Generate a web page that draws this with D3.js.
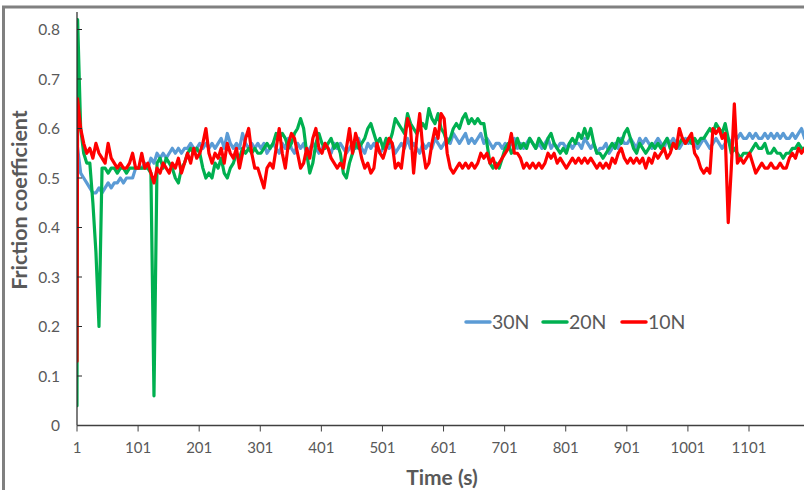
<!DOCTYPE html>
<html>
<head>
<meta charset="utf-8">
<script src="https://cdn.jsdelivr.net/npm/d3@7"></script>
<style>
  html, body { margin: 0; padding: 0; background: #fff; }
  svg { display: block; }
  text { font-family: Lato, "Open Sans", sans-serif; fill: #595959; }
</style>
</head>
<body>
<svg id="chart" width="804" height="490"></svg>
<script>
// Sample times (s): first reading, then every 5 s
const time = [1].concat(d3.range(2, 1200, 5));

// Friction coefficient, 30 N load
const mu30N = [0.57,
  0.56,0.51,0.50,0.49,0.48,0.47,0.47,0.48,0.47,0.48,0.49,0.48,0.49,0.49,0.50,0.49,0.50,0.50,0.50,0.52,
  0.52,0.52,0.53,0.52,0.54,0.53,0.55,0.54,0.55,0.54,0.55,0.56,0.55,0.56,0.55,0.56,0.56,0.57,0.56,0.56,
  0.57,0.56,0.57,0.56,0.57,0.56,0.57,0.58,0.56,0.59,0.57,0.56,0.57,0.56,0.59,0.57,0.56,0.57,0.56,0.57,
  0.56,0.57,0.55,0.56,0.57,0.56,0.55,0.57,0.56,0.58,0.56,0.55,0.57,0.56,0.57,0.55,0.56,0.57,0.56,0.55,
  0.56,0.57,0.56,0.55,0.57,0.56,0.57,0.56,0.55,0.56,0.57,0.56,0.58,0.56,0.55,0.57,0.56,0.57,0.56,0.55,
  0.56,0.57,0.56,0.57,0.55,0.56,0.57,0.56,0.58,0.56,0.57,0.56,0.55,0.57,0.56,0.57,0.56,0.58,0.57,0.56,
  0.57,0.58,0.57,0.59,0.58,0.57,0.58,0.59,0.57,0.58,0.57,0.58,0.59,0.57,0.58,0.57,0.56,0.57,0.57,0.56,
  0.57,0.56,0.57,0.58,0.56,0.57,0.56,0.57,0.58,0.57,0.56,0.57,0.56,0.57,0.58,0.56,0.57,0.56,0.57,0.57,
  0.56,0.57,0.56,0.57,0.57,0.56,0.58,0.57,0.56,0.57,0.55,0.56,0.56,0.57,0.55,0.56,0.57,0.56,0.58,0.57,
  0.57,0.58,0.57,0.56,0.58,0.57,0.58,0.57,0.56,0.57,0.58,0.57,0.56,0.58,0.57,0.58,0.57,0.56,0.57,0.58,
  0.57,0.58,0.57,0.56,0.57,0.58,0.57,0.56,0.57,0.58,0.57,0.56,0.57,0.58,0.57,0.59,0.58,0.59,0.58,0.58,
  0.59,0.58,0.59,0.58,0.58,0.59,0.58,0.59,0.58,0.59,0.58,0.59,0.58,0.58,0.59,0.58,0.59,0.60,0.58,0.59];

// Friction coefficient, 20 N load
const mu20N = [0.04,
  0.82,0.60,0.55,0.53,0.53,0.45,0.35,0.20,0.52,0.52,0.51,0.52,0.52,0.51,0.52,0.52,0.51,0.52,0.52,0.52,
  0.52,0.52,0.52,0.52,0.51,0.06,0.53,0.54,0.52,0.54,0.53,0.52,0.50,0.49,0.52,0.53,0.55,0.56,0.55,0.56,
  0.55,0.52,0.50,0.51,0.50,0.53,0.52,0.54,0.51,0.50,0.52,0.53,0.55,0.54,0.56,0.55,0.56,0.55,0.56,0.55,
  0.55,0.56,0.57,0.56,0.57,0.59,0.58,0.59,0.58,0.56,0.57,0.59,0.60,0.62,0.60,0.55,0.51,0.53,0.57,0.59,
  0.57,0.56,0.57,0.58,0.56,0.57,0.55,0.51,0.50,0.53,0.55,0.57,0.56,0.57,0.58,0.60,0.61,0.59,0.57,0.58,
  0.56,0.58,0.57,0.59,0.62,0.61,0.60,0.59,0.63,0.61,0.60,0.59,0.60,0.61,0.60,0.64,0.62,0.61,0.63,0.60,
  0.59,0.57,0.58,0.60,0.61,0.60,0.62,0.63,0.61,0.62,0.61,0.62,0.61,0.61,0.57,0.53,0.52,0.53,0.52,0.54,
  0.56,0.57,0.55,0.56,0.58,0.56,0.57,0.56,0.58,0.57,0.56,0.58,0.57,0.56,0.58,0.59,0.57,0.56,0.55,0.56,
  0.55,0.57,0.58,0.57,0.59,0.58,0.60,0.58,0.60,0.57,0.55,0.55,0.54,0.55,0.56,0.57,0.56,0.58,0.57,0.59,
  0.60,0.58,0.56,0.55,0.57,0.56,0.55,0.56,0.57,0.56,0.57,0.56,0.57,0.58,0.56,0.57,0.56,0.57,0.58,0.57,
  0.58,0.57,0.58,0.57,0.58,0.58,0.59,0.60,0.59,0.61,0.60,0.59,0.61,0.58,0.55,0.56,0.55,0.54,0.55,0.55,
  0.55,0.56,0.57,0.56,0.56,0.57,0.55,0.55,0.56,0.55,0.55,0.54,0.55,0.55,0.56,0.56,0.57,0.56,0.56,0.57];

// Friction coefficient, 10 N load
const mu10N = [0.13,
  0.66,0.60,0.57,0.55,0.56,0.54,0.57,0.55,0.54,0.53,0.57,0.54,0.53,0.52,0.53,0.52,0.52,0.53,0.55,0.52,
  0.52,0.55,0.52,0.53,0.51,0.49,0.52,0.51,0.53,0.52,0.51,0.53,0.52,0.54,0.51,0.53,0.55,0.53,0.56,0.54,
  0.55,0.57,0.60,0.55,0.53,0.55,0.54,0.56,0.53,0.57,0.55,0.54,0.56,0.52,0.55,0.58,0.60,0.55,0.52,0.52,
  0.50,0.48,0.52,0.53,0.52,0.56,0.60,0.55,0.52,0.57,0.59,0.58,0.55,0.52,0.53,0.56,0.54,0.58,0.60,0.56,
  0.55,0.57,0.56,0.54,0.53,0.52,0.53,0.52,0.56,0.60,0.55,0.59,0.57,0.54,0.52,0.53,0.51,0.52,0.57,0.55,
  0.54,0.56,0.58,0.57,0.52,0.53,0.52,0.57,0.62,0.60,0.51,0.58,0.63,0.56,0.52,0.53,0.57,0.60,0.58,0.63,
  0.62,0.55,0.52,0.51,0.52,0.53,0.52,0.53,0.52,0.53,0.52,0.53,0.55,0.54,0.55,0.53,0.54,0.52,0.53,0.54,
  0.55,0.56,0.59,0.55,0.55,0.54,0.52,0.53,0.52,0.53,0.52,0.53,0.52,0.53,0.55,0.54,0.55,0.53,0.54,0.53,
  0.52,0.53,0.54,0.53,0.54,0.53,0.54,0.53,0.54,0.53,0.52,0.53,0.52,0.53,0.52,0.54,0.53,0.55,0.56,0.54,
  0.53,0.54,0.53,0.54,0.53,0.54,0.52,0.54,0.53,0.55,0.54,0.55,0.56,0.54,0.55,0.57,0.56,0.60,0.58,0.57,
  0.58,0.59,0.55,0.54,0.52,0.51,0.52,0.51,0.60,0.59,0.60,0.58,0.59,0.41,0.52,0.65,0.53,0.54,0.53,0.54,
  0.55,0.53,0.51,0.52,0.53,0.52,0.52,0.53,0.52,0.52,0.53,0.52,0.52,0.54,0.55,0.54,0.56,0.55,0.56,0.55];

const xTicks = [1, 101, 201, 301, 401, 501, 601, 701, 801, 901, 1001, 1101];
const yTicks = [0, 0.1, 0.2, 0.3, 0.4, 0.5, 0.6, 0.7, 0.8];
const yTickLabels = ["0", "0.1", "0.2", "0.3", "0.4", "0.5", "0.6", "0.7", "0.8"];

const seriesNames = ["30N", "20N", "10N"];
const seriesColors = ["#5b9bd5", "#00b050", "#ff0000"];
const seriesValues = [mu30N, mu20N, mu10N];

const svg = d3.select("#chart");

// Outer chart frame (only its top and left edges fall inside the view)
svg.append("rect")
  .attr("x", 3.5).attr("y", 7)
  .attr("width", 900).attr("height", 600)
  .attr("fill", "#fff")
  .attr("stroke", "#808080")
  .attr("stroke-width", 3);

const plot = { left: 77, right: 804, top: 12, bottom: 425.5 };

const x = d3.scaleLinear().domain([1, 1101]).range([77, 749]);
const y = d3.scaleLinear().domain([0, 0.8]).range([425.5, 29.5]);

svg.append("defs").append("clipPath").attr("id", "plotClip")
  .append("rect")
  .attr("x", plot.left).attr("y", 0)
  .attr("width", plot.right - plot.left + 10).attr("height", plot.bottom + 4);

// Series lines
const line = d3.line()
  .x((d, i) => x(time[i]))
  .y(d => y(d));

const lines = svg.append("g").attr("clip-path", "url(#plotClip)");
seriesValues.forEach((vals, k) => {
  lines.append("path")
    .datum(vals)
    .attr("fill", "none")
    .attr("stroke", seriesColors[k])
    .attr("stroke-width", 3.2)
    .attr("stroke-linejoin", "round")
    .attr("stroke-linecap", "round")
    .attr("d", line);
});

// Y axis
const yAxis = svg.append("g").attr("transform", `translate(${plot.left},0)`);
yAxis.append("line")
  .attr("x1", 0).attr("x2", 0)
  .attr("y1", plot.top).attr("y2", plot.bottom)
  .attr("stroke", "#262626").attr("stroke-width", 1.2);
yAxis.selectAll("line.tick").data(yTicks).join("line")
  .attr("class", "tick")
  .attr("x1", 0).attr("x2", 5)
  .attr("y1", d => y(d)).attr("y2", d => y(d))
  .attr("stroke", "#262626").attr("stroke-width", 1);
yAxis.selectAll("text").data(yTicks).join("text")
  .attr("x", -17)
  .attr("y", d => y(d))
  .attr("dy", "0.36em")
  .attr("text-anchor", "end")
  .attr("font-size", 15.5)
  .text((d, i) => yTickLabels[i]);

// X axis
const xAxis = svg.append("g").attr("transform", `translate(0,${plot.bottom})`);
xAxis.append("line")
  .attr("x1", plot.left).attr("x2", plot.right)
  .attr("y1", 0).attr("y2", 0)
  .attr("stroke", "#404040").attr("stroke-width", 1.3);
xAxis.selectAll("line.tick").data(xTicks).join("line")
  .attr("class", "tick")
  .attr("x1", d => x(d)).attr("x2", d => x(d))
  .attr("y1", 0).attr("y2", 6)
  .attr("stroke", "#404040").attr("stroke-width", 1);
xAxis.selectAll("text").data(xTicks).join("text")
  .attr("x", d => x(d))
  .attr("y", 27)
  .attr("text-anchor", "middle")
  .attr("font-size", 15)
  .text(d => d);

// Axis titles
svg.append("text")
  .attr("x", 442).attr("y", 485)
  .attr("text-anchor", "middle")
  .attr("font-size", 21)
  .attr("font-weight", "bold")
  .text("Time (s)");

svg.append("text")
  .attr("transform", "translate(27,200) rotate(-90)")
  .attr("text-anchor", "middle")
  .attr("font-size", 21.5)
  .attr("font-weight", "bold")
  .text("Friction coefficient");

// Legend
const legendX = [466, 543, 622];
const legend = svg.append("g");
seriesNames.forEach((name, k) => {
  legend.append("line")
    .attr("x1", legendX[k]).attr("x2", legendX[k] + 24)
    .attr("y1", 322).attr("y2", 322)
    .attr("stroke", seriesColors[k])
    .attr("stroke-width", 3.5)
    .attr("stroke-linecap", "round");
  legend.append("text")
    .attr("x", legendX[k] + 26)
    .attr("y", 322)
    .attr("dy", "0.36em")
    .attr("font-size", 19.5)
    .text(name);
});
</script>
</body>
</html>
